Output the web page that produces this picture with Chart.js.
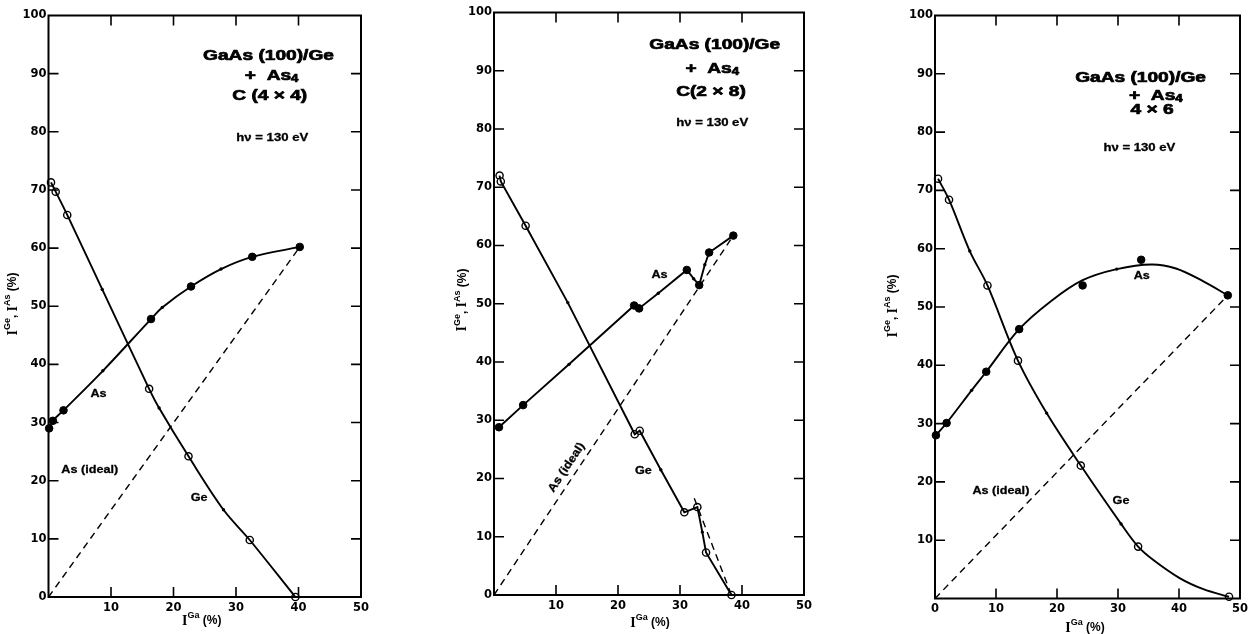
<!DOCTYPE html>
<html><head><meta charset="utf-8">
<script src="https://cdn.jsdelivr.net/npm/chart.js@4.4.1/dist/chart.umd.min.js"></script>
<style>
html,body{margin:0;padding:0;background:#fff;width:1252px;height:634px;overflow:hidden;}
canvas{position:absolute;top:0;}
</style></head><body>
<canvas id="c1" width="415" height="634" style="left:0px"></canvas>
<canvas id="c2" width="415" height="634" style="left:420px"></canvas>
<canvas id="c3" width="412" height="634" style="left:840px"></canvas>
<script>
// ---------------- DATA ----------------
const xTickValues = [0, 10, 20, 30, 40, 50];
const xTickLabelsNoZero = ['', '10', '20', '30', '40', '50'];
const xTickLabelsZero = ['0', '10', '20', '30', '40', '50'];
const yTickValues = [0, 10, 20, 30, 40, 50, 60, 70, 80, 90, 100];
const yTickLabelsZero = ['0', '10', '20', '30', '40', '50', '60', '70', '80', '90', '100'];
const yTickLabelsNoZero = ['', '10', '20', '30', '40', '50', '60', '70', '80', '90', '100'];

// Panel 1 : GaAs(100)/Ge + As4, C(4x4)
const p1GeMarks = [[0.4, 71.3], [1.15, 69.7], [3.0, 65.7], [16.1, 35.8], [22.4, 24.2], [32.2, 9.8], [39.5, 0]];
const p1GeDots = [[8.6, 52.9], [17.7, 32.5], [28.0, 15.0]];
const p1AsMarks = [[0.1, 29.0], [0.7, 30.3], [2.4, 32.1], [16.4, 47.8], [22.8, 53.4], [32.6, 58.5], [40.2, 60.2]];
const p1AsDots = [[8.7, 38.9], [18.2, 49.8], [27.6, 56.4]];
const p1Ideal = [[0, 0], [40.2, 60.2]];

// Panel 2 : C(2x8)
const p2GeMarks = [[0.9, 72.0], [1.1, 71.0], [5.1, 63.4], [22.7, 27.6], [23.5, 28.2], [30.7, 14.2], [32.8, 15.1], [34.2, 7.3], [38.3, 0]];
const p2GeDots = [[11.9, 50.2], [26.9, 21.5], [33.6, 10.8]];
const p2GeDash = [[32.3, 16.6], [38.3, 0]];
const p2AsMarks = [[0.8, 28.8], [4.7, 32.6], [22.6, 49.7], [23.4, 49.2], [31.1, 55.8], [33.1, 53.2], [34.7, 58.8], [38.6, 61.7]];
const p2AsDots = [[12.1, 39.6], [26.5, 51.8], [32.2, 54.3], [34.0, 56.7]];
const p2Ideal = [[0, 0], [38.6, 61.7]];

// Panel 3 : 4x6
const p3GeMarks = [[0.5, 72.0], [2.3, 68.4], [8.6, 53.7], [13.6, 40.8], [23.9, 22.8], [33.3, 8.9], [48.2, 0.3]];
const p3GeDots = [[5.7, 59.6], [18.3, 31.8], [30.5, 12.8]];
const p3GeFit = [[0.5, 72.0], [2.3, 68.4], [5.7, 59.6], [8.6, 53.7], [13.6, 40.8], [18.3, 31.8], [23.9, 22.8], [30.5, 12.8], [33.3, 8.9], [35.8, 6.6], [40.1, 3.5], [44.0, 1.6], [48.2, 0.3]];
const p3AsMarks = [[0.15, 28.0], [1.9, 30.1], [8.4, 38.9], [13.8, 46.2], [24.2, 53.7], [33.8, 58.1], [48.0, 52.0]];
const p3AsDots = [[6.0, 35.7], [29.8, 56.5]];
const p3AsFit = [[0.15, 28.0], [1.9, 30.1], [6.0, 35.7], [8.4, 38.9], [13.8, 46.2], [19.0, 51.0], [24.2, 54.6], [29.8, 56.5], [35.5, 57.3], [39.5, 56.6], [44.0, 54.4], [48.0, 52.0]];
const p3Ideal = [[0, 0], [48, 52]];

// ---------------- STYLE / LAYOUT ----------------
const SANS = '"Liberation Sans", Arial, sans-serif';
const SERIF = '"Liberation Serif", "Times New Roman", serif';
const TF = 'bold 14.5px ' + SANS;
const SUBF = 'bold 10px ' + SANS;
const HF = 'bold 10.5px ' + SANS;
const LF = 'bold 11.5px ' + SANS;
const AXI = 'bold 14px ' + SERIF;
const AXS = 'bold 9px ' + SANS;
const AXP = 'bold 12px ' + SANS;

function xy(arr) { return arr.map(p => ({x: p[0], y: p[1]})); }
function sortX(arr) { return arr.slice().sort((a, b) => a[0] - b[0]); }

function richWidth(ctx, segs) { let w = 0; for (const s of segs) { ctx.font = s.f; w += ctx.measureText(s.t).width; } return w; }
function drawRich(ctx, segs, x, y, ang, sx, heavy) {
  ctx.save(); ctx.translate(x, y); if (ang) ctx.rotate(ang); if (sx) ctx.scale(sx, 1);
  const w = richWidth(ctx, segs); let cx = -w / 2;
  ctx.textBaseline = 'middle'; ctx.textAlign = 'left'; ctx.fillStyle = '#000';
  ctx.strokeStyle = '#000'; ctx.lineWidth = heavy || 0; ctx.lineJoin = 'round';
  for (const s of segs) {
    ctx.font = s.f; ctx.fillText(s.t, cx, s.dy || 0);
    if (heavy) ctx.strokeText(s.t, cx, s.dy || 0);
    cx += ctx.measureText(s.t).width;
  }
  ctx.restore();
}

const yTitle = [{t: 'I', f: AXI}, {t: 'Ge', f: AXS, dy: -5}, {t: ', ', f: AXP}, {t: 'I', f: AXI}, {t: 'As', f: AXS, dy: -5}, {t: ' (%)', f: AXP}];
const xTitle = [{t: 'I', f: AXI}, {t: 'Ga', f: AXS, dy: -5}, {t: ' (%)', f: AXP}];

const framePlugin = {
  id: 'frame',
  afterDraw(chart) {
    const P = chart.config.options.plugins.frame;
    const ctx = chart.ctx, a = chart.chartArea, xs = chart.scales.x, ys = chart.scales.y;
    ctx.save();
    ctx.strokeStyle = '#000'; ctx.lineWidth = 2;
    ctx.strokeRect(a.left, a.top, a.right - a.left, a.bottom - a.top);
    ctx.lineWidth = 1.6;
    ctx.beginPath();
    for (let v = 10; v <= 40; v += 10) {
      const px = xs.getPixelForValue(v);
      ctx.moveTo(px, a.bottom); ctx.lineTo(px, a.bottom - 10);
      ctx.moveTo(px, a.top); ctx.lineTo(px, a.top + 10);
    }
    for (let v = 10; v <= 90; v += 10) {
      const py = ys.getPixelForValue(v);
      ctx.moveTo(a.left, py); ctx.lineTo(a.left + 10, py);
      ctx.moveTo(a.right, py); ctx.lineTo(a.right - 10, py);
    }
    ctx.stroke();
    for (const T of P.texts) {
      let ang = 0;
      if (T.along) {
        const x1 = xs.getPixelForValue(T.along[0][0]), y1 = ys.getPixelForValue(T.along[0][1]);
        const x2 = xs.getPixelForValue(T.along[1][0]), y2 = ys.getPixelForValue(T.along[1][1]);
        ang = Math.atan2(y2 - y1, x2 - x1);
      }
      drawRich(ctx, T.segs, xs.getPixelForValue(T.x), ys.getPixelForValue(T.y), ang, T.sx, T.heavy);
    }
    drawRich(ctx, yTitle, P.yTitlePos[0], P.yTitlePos[1], -Math.PI / 2, 1);
    drawRich(ctx, xTitle, (a.left + a.right) / 2 + P.xTitlePos[0], P.xTitlePos[1], 0, 1);
    ctx.restore();
  }
};

function titleTexts(sub, pos) {
  return [
    {segs: [{t: 'GaAs (100)/Ge', f: TF}], x: pos[0][0], y: pos[0][1], sx: 1.32, heavy: 0.7},
    {segs: [{t: '+  As', f: TF}, {t: '4', f: SUBF, dy: 3}], x: pos[1][0], y: pos[1][1], sx: 1.32, heavy: 0.7},
    {segs: [{t: sub, f: TF}], x: pos[2][0], y: pos[2][1], sx: 1.32, heavy: 0.7},
    {segs: [{t: 'h\u03BD = 130 eV', f: HF}], x: pos[3][0], y: pos[3][1], sx: 1.25, heavy: 0.3}
  ];
}
function label(t, x, y, along) { return {segs: [{t: t, f: LF}], x: x, y: y, sx: 1.1, along: along, heavy: 0.3}; }

function makeChart(id, P) {
  const ds = [];
  ds.push({data: xy(P.ideal), borderColor: '#000', borderWidth: 1.4, borderDash: [7, 5], pointRadius: 0, tension: 0, clip: false});
  if (P.geDash) ds.push({data: xy(P.geDash), borderColor: '#000', borderWidth: 1.4, borderDash: [7, 5], pointRadius: 0, tension: 0, clip: false});
  const curveOpts = {tension: P.tension};
  const geCurve = P.geCurve || sortX(P.geMarks.concat(P.geDots));
  const asCurve = P.asCurve || sortX(P.asMarks.concat(P.asDots));
  ds.push(Object.assign({data: xy(geCurve), borderColor: '#000', borderWidth: 1.9, pointRadius: 0, clip: false}, curveOpts));
  ds.push(Object.assign({data: xy(asCurve), borderColor: '#000', borderWidth: 1.9, pointRadius: 0, clip: false}, curveOpts));
  ds.push({data: xy(P.geDots.concat(P.asDots)), showLine: false, pointRadius: 1.7, pointBackgroundColor: '#000', pointBorderColor: '#000', pointBorderWidth: 0, clip: false});
  ds.push({data: xy(P.asMarks), showLine: false, pointRadius: 3.8, pointBackgroundColor: '#000', pointBorderColor: '#000', pointBorderWidth: 1, clip: false});
  ds.push({data: xy(P.geMarks), showLine: false, pointRadius: 3.6, pointBackgroundColor: '#fff', pointBorderColor: '#000', pointBorderWidth: 1.4, clip: false});

  const tickFont = {family: '"DejaVu Sans", sans-serif', weight: 'bold', size: 11.5};
  new Chart(document.getElementById(id), {
    type: 'line',
    data: {datasets: ds},
    options: {
      responsive: false, animation: false, devicePixelRatio: 1,
      layout: {padding: {top: P.area.top, right: P.w - P.area.right, left: 0, bottom: 0}},
      plugins: {legend: {display: false}, tooltip: {enabled: false}, frame: P},
      events: [],
      scales: {
        x: {type: 'linear', min: 0, max: 50, grid: {display: false, drawTicks: false}, border: {display: false},
          afterBuildTicks: s => { s.ticks = xTickValues.map(v => ({value: v})); },
          ticks: {font: tickFont, color: '#000', padding: 4, maxRotation: 0, autoSkip: false,
            callback: (v, i) => P.xLabels[i]},
          afterFit: s => { s.height = P.h - P.area.bottom; }},
        y: {type: 'linear', min: 0, max: 100, grid: {display: false, drawTicks: false}, border: {display: false},
          afterBuildTicks: s => { s.ticks = yTickValues.map(v => ({value: v})); },
          ticks: {font: tickFont, color: '#000', padding: 2, autoSkip: false,
            callback: (v, i) => P.yLabels[i]},
          afterFit: s => { s.width = P.area.left; }}
      }
    },
    plugins: [framePlugin]
  });
}

makeChart('c1', {
  w: 415, h: 634, area: {left: 48.5, right: 361, top: 15.5, bottom: 597},
  xLabels: xTickLabelsNoZero, yLabels: yTickLabelsZero, tension: 0.35,
  geMarks: p1GeMarks, geDots: p1GeDots, asMarks: p1AsMarks, asDots: p1AsDots, ideal: p1Ideal,
  yTitlePos: [13, 304], xTitlePos: [-3, 621],
  texts: titleTexts('C (4 \u00D7 4)', [[35.2, 93.0], [35.7, 89.6], [35.4, 86.2], [35.8, 78.9]]).concat([
    label('As', 8.0, 35.0), label('As (ideal)', 6.6, 21.9), label('Ge', 24.1, 17.0)
  ])
});

makeChart('c2', {
  w: 415, h: 634, area: {left: 74, right: 384, top: 12.5, bottom: 595},
  xLabels: xTickLabelsNoZero, yLabels: yTickLabelsZero, tension: 0,
  geMarks: p2GeMarks, geDots: p2GeDots, asMarks: p2AsMarks, asDots: p2AsDots, ideal: p2Ideal, geDash: p2GeDash,
  yTitlePos: [42.5, 300], xTitlePos: [1, 623],
  texts: titleTexts('C(2 \u00D7 8)', [[35.6, 94.4], [35.2, 90.3], [35.0, 86.4], [35.2, 81.0]]).concat([
    label('As', 26.7, 54.9), label('As (ideal)', 11.7, 21.9, p2Ideal), label('Ge', 24.1, 21.4)
  ])
});

makeChart('c3', {
  w: 412, h: 634, area: {left: 95, right: 405, top: 15.5, bottom: 598.5},
  xLabels: xTickLabelsZero, yLabels: yTickLabelsNoZero, tension: 0.35,
  geMarks: p3GeMarks, geDots: p3GeDots, asMarks: p3AsMarks, asDots: p3AsDots, geCurve: p3GeFit, asCurve: p3AsFit, ideal: p3Ideal,
  yTitlePos: [53, 306], xTitlePos: [-2.5, 628],
  texts: titleTexts('4 \u00D7 6', [[33.7, 89.2], [36.2, 86.2], [35.6, 83.8], [33.5, 77.2]]).concat([
    label('As', 33.9, 55.4), label('As (ideal)', 10.8, 18.4), label('Ge', 30.5, 16.7)
  ])
});
</script>
</body></html>
